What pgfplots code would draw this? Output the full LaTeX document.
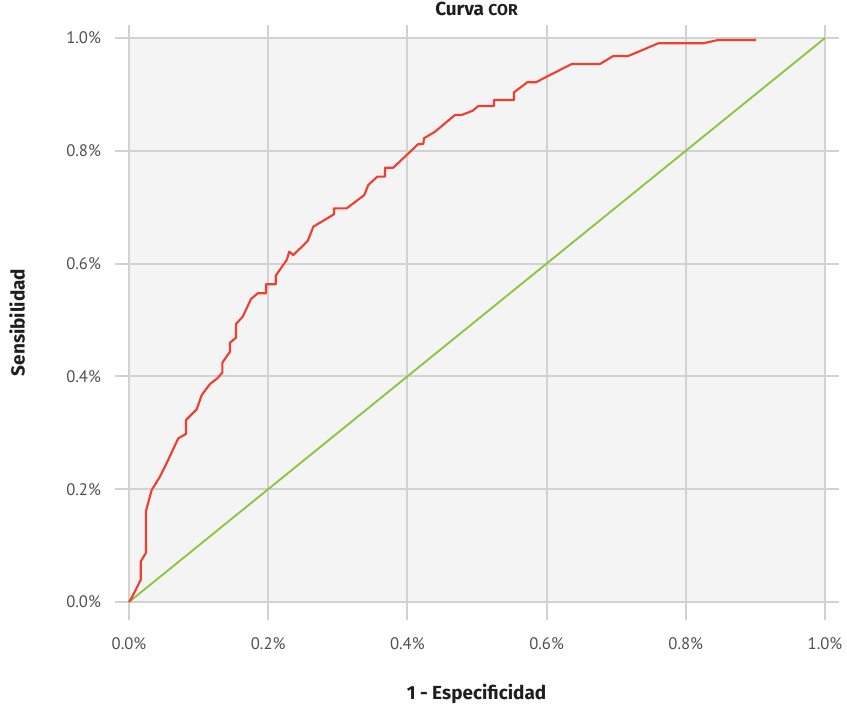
\documentclass[border=0pt]{standalone}
\usepackage{fontspec}
\setmainfont{PT Sans}
\newfontfamily\labfont{Fira Sans}
\usepackage{pgfplots}
\pgfplotsset{compat=1.18}
\definecolor{bgc}{RGB}{244,244,244}
\definecolor{gridc}{RGB}{210,210,210}
\definecolor{redc}{RGB}{238,64,50}
\definecolor{greenc}{RGB}{140,197,62}
\definecolor{tickc}{RGB}{80,80,80}
\definecolor{labc}{RGB}{30,30,30}
\begin{document}
\begin{tikzpicture}
\begin{axis}[
  set layers,
  at={(85.875pt,64.5pt)}, anchor=south west,
  scale only axis, width=543pt, height=446.25pt,
  xmin=-0.02083, xmax=1.01940, ymin=-0.03191, ymax=1.02305,
  axis line style={draw=none},
  major tick length=0pt,
  grid=major,
  major grid style={color=gridc, line width=1.5pt},
  xtick={0,0.2,0.4,0.6,0.8,1}, ytick={0,0.2,0.4,0.6,0.8,1},
  xticklabels={0.0\%,0.2\%,0.4\%,0.6\%,0.8\%,1.0\%},
  yticklabels={0.0\%,0.2\%,0.4\%,0.6\%,0.8\%,1.0\%},
  tick label style={font=\fontsize{12.5}{14}\selectfont, text=tickc, inner sep=0pt},
  xticklabel style={anchor=base, yshift=-22pt},
  yticklabel style={anchor=base east, xshift=-10pt, yshift=-4.4pt},
  title={Curva {\fontsize{11.8}{13}\selectfont COR}},
  title style={at={(axis description cs:0.5,1.002)}, anchor=base, inner sep=0pt, font=\labfont\bfseries\fontsize{14.2}{16}\selectfont, text=labc},
  xlabel={1 - Especificidad},
  xlabel style={at={(axis description cs:0.5,-0.1328)}, anchor=base, inner sep=0pt, font=\labfont\bfseries\fontsize{14.2}{16}\selectfont, text=labc},
  ylabel={Sensibilidad},
  ylabel style={at={(axis description cs:-0.1243,0.5)}, rotate=0, anchor=base, inner sep=0pt, font=\labfont\bfseries\fontsize{14.2}{16}\selectfont, text=labc},
]
\addplot[draw=none, fill=bgc, on layer=axis background] coordinates {(0,0) (1,0) (1,1) (0,1)} \closedcycle;
\addplot[greenc, line width=1.4pt] coordinates {(0,0) (1,1)};
\addplot[redc, line width=1.6pt, line join=round] coordinates {
(0,0) (0.0029,0.0053) (0.0168,0.039) (0.0168,0.0715) (0.0244,0.0874) (0.0244,0.1613)
(0.0326,0.1986) (0.0445,0.2222) (0.0542,0.2465) (0.0708,0.2902) (0.0819,0.2979)
(0.0819,0.3227) (0.0973,0.3417) (0.1045,0.367) (0.1164,0.3865) (0.1269,0.3966)
(0.1341,0.4066) (0.1341,0.4243) (0.1451,0.4438) (0.1451,0.4598) (0.1537,0.4686)
(0.1537,0.4929) (0.1634,0.5059) (0.1753,0.5372) (0.1849,0.5473) (0.1968,0.5473)
(0.1968,0.5633) (0.2108,0.5633) (0.2108,0.5786) (0.2266,0.6064) (0.2303,0.6211)
(0.2361,0.6152) (0.2568,0.6401) (0.2648,0.6654) (0.2945,0.6874) (0.2945,0.698)
(0.3128,0.698) (0.3381,0.7216) (0.3438,0.7394) (0.3568,0.7541) (0.3678,0.7541)
(0.3678,0.77) (0.3797,0.77) (0.4157,0.8121) (0.4228,0.8121) (0.4239,0.8222)
(0.4397,0.8339) (0.4684,0.8635) (0.478,0.8635) (0.4938,0.8711) (0.5019,0.8794)
(0.5244,0.8794) (0.5244,0.8901) (0.5532,0.8901) (0.5532,0.9037) (0.5723,0.9215)
(0.5848,0.9215) (0.6049,0.9344) (0.6361,0.9539) (0.6767,0.9539) (0.6958,0.9681)
(0.7174,0.9681) (0.7605,0.9906) (0.8251,0.9906) (0.8467,0.9965) (0.9009,0.9965)
};
\end{axis}
\pgfresetboundingbox
\path (0,0) rectangle (635.25pt,529.5pt);
\end{tikzpicture}
\end{document}
